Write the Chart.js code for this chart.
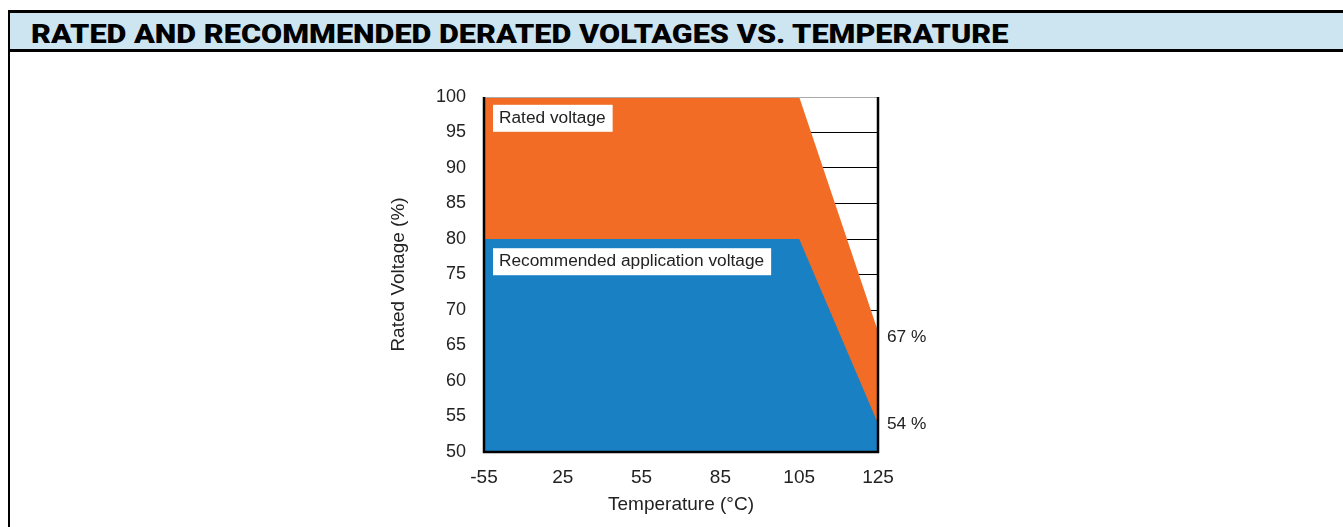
<!DOCTYPE html>
<html>
<head>
<meta charset="utf-8">
<script src="https://cdn.jsdelivr.net/npm/chart.js@4.4.1/dist/chart.umd.min.js"></script>
<style>
  html, body { margin: 0; padding: 0; background: #fff; }
  body { width: 1343px; height: 527px; position: relative; overflow: hidden; }
  #frame { position: absolute; left: 8px; top: 10px; width: 1345px; height: 530px;
           border-left: 2px solid #000; border-top: 3px solid #000; }
  #head { position: absolute; left: 0; top: 0; width: 100%; height: 36px; background: #cde4f1;
          border-bottom: 3px solid #000; }
  #head span { position: absolute; left: 21px; top: 9px; font-family: Roboto, "Arial Black", sans-serif;
               font-weight: 900; font-size: 25px; line-height: 25px; color: #000; white-space: nowrap;
               transform-origin: 0 0; }
  #box { position: absolute; left: 10px; top: 53px; width: 1333px; height: 474px; }
</style>
</head>
<body>
<div id="frame">
  <div id="head"><span id="titulo">RATED AND RECOMMENDED DERATED VOLTAGES VS. TEMPERATURE</span></div>
</div>
<div id="box"><canvas id="grafico"></canvas></div>
<script>
// Dados
const temperaturas = ['-55', '25', '55', '85', '105', '125'];        // eixo X (°C)
const tensaoNominal = [100, 100, 100, 100, 100, 67];                 // Rated voltage (%)
const tensaoRecomendada = [80, 80, 80, 80, 80, 54];                  // Recommended application voltage (%)
const ticksY = [50, 55, 60, 65, 70, 75, 80, 85, 90, 95, 100];

// Caixas de texto dentro do gráfico e rótulos à direita
const caixas = [
    { texto: 'Rated voltage', y: 97.0 },
    { texto: 'Recommended application voltage', y: 76.8 }
];
const rotulosDireita = [
    { texto: '67 %', y: 66.2 },
    { texto: '54 %', y: 53.9 }
];

const fonte = '"Liberation Sans", Arial, sans-serif';

// Título com a largura do original (fonte tipo Arial Black)
const titulo = document.getElementById('titulo');
titulo.style.transform = 'scaleX(' + (978 / titulo.offsetWidth) + ')';

const pluginTextos = {
    id: 'textos',
    afterDatasetsDraw(chart) {
        const { ctx, chartArea, scales } = chart;
        ctx.save();
        ctx.font = '17.3px ' + fonte;
        ctx.textBaseline = 'middle';
        caixas.forEach(c => {
            const w = ctx.measureText(c.texto).width + 13;
            const yc = scales.y.getPixelForValue(c.y);
            ctx.fillStyle = '#fff';
            ctx.fillRect(chartArea.left + 9, yc - 13.5, w, 27);
            ctx.fillStyle = '#222';
            ctx.fillText(c.texto, chartArea.left + 15, yc);
        });
        rotulosDireita.forEach(r => {
            ctx.fillStyle = '#222';
            ctx.fillText(r.texto, chartArea.right + 9, scales.y.getPixelForValue(r.y));
        });
        // moldura do gráfico
        ctx.strokeStyle = '#aaa';
        ctx.lineWidth = 1;
        ctx.beginPath();
        ctx.moveTo(chartArea.left, chartArea.top + 0.5);
        ctx.lineTo(chartArea.right, chartArea.top + 0.5);
        ctx.stroke();
        ctx.strokeStyle = '#000';
        ctx.lineWidth = 2.5;
        ctx.beginPath();
        ctx.moveTo(chartArea.right, chartArea.top);
        ctx.lineTo(chartArea.right, chartArea.bottom);
        ctx.lineTo(chartArea.left, chartArea.bottom);
        ctx.lineTo(chartArea.left, chartArea.top);
        ctx.stroke();
        ctx.restore();
    }
};

function desenhar() {
    const ctx = document.getElementById('grafico').getContext('2d');
    new Chart(ctx, {
        type: 'line',
        data: {
            labels: temperaturas,
            datasets: [{
                label: 'Recommended application voltage',
                data: tensaoRecomendada,
                backgroundColor: '#1a80c4',
                borderWidth: 0,
                pointRadius: 0,
                fill: 'start',
                order: 1
            }, {
                label: 'Rated voltage',
                data: tensaoNominal,
                backgroundColor: '#f26c25',
                borderWidth: 0,
                pointRadius: 0,
                fill: 'start',
                order: 2
            }]
        },
        options: {
            responsive: true,
            maintainAspectRatio: false,
            animation: false,
            layout: { padding: { left: 360, right: 465, top: 44, bottom: 0 } },
            plugins: { legend: { display: false }, tooltip: { enabled: false } },
            scales: {
                x: {
                    offset: false,
                    grid: { display: false, drawTicks: false },
                    border: { display: false },
                    ticks: { color: '#222', font: { family: fonte, size: 19 }, padding: 14, maxRotation: 0 },
                    title: { display: true, text: 'Temperature (°C)', color: '#222',
                             font: { family: fonte, size: 19 }, padding: { top: 0, bottom: 11 } },
                    afterFit: s => { s.height = 75; }
                },
                y: {
                    min: 50,
                    max: 100,
                    afterBuildTicks: s => { s.ticks = ticksY.map(v => ({ value: v })); },
                    grid: {
                        drawTicks: false,
                        color: c => (c.tick.value === 50 || c.tick.value === 100) ? 'rgba(0,0,0,0)' : '#000',
                        lineWidth: 1
                    },
                    border: { display: false },
                    ticks: { color: '#222', font: { family: fonte, size: 18 }, padding: 18 },
                    title: { display: true, text: 'Rated Voltage (%)', color: '#222',
                             font: { family: fonte, size: 19 }, padding: { top: 17, bottom: 0 } },
                    afterFit: s => { s.width = 114; }
                }
            }
        },
        plugins: [pluginTextos]
    });
}

document.fonts.load('16px "Liberation Sans"').then(desenhar, desenhar);
</script>
</body>
</html>
